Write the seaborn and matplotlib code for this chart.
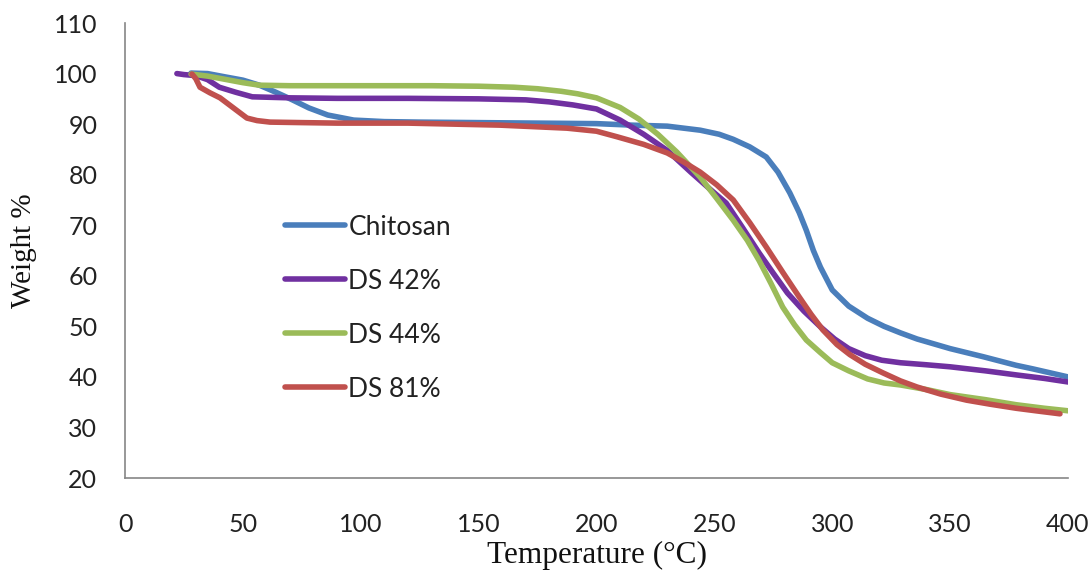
import matplotlib
matplotlib.use("Agg")
import matplotlib.pyplot as plt
import seaborn as sns
import pandas as pd
from matplotlib.lines import Line2D

chitosan_x = [28, 35, 43, 50, 57, 64, 71, 78, 86, 97, 110, 125, 150, 175, 200, 215, 230, 244, 252, 258,
              265, 272, 277, 282, 286, 289, 292, 295, 300, 307, 315, 322, 329, 336, 350, 364, 378, 385, 400]
chitosan_y = [100.1, 100, 99.3, 98.7, 97.7, 96.3, 94.8, 93.2, 91.8, 90.8, 90.5, 90.4, 90.3, 90.2, 90.1, 89.8,
              89.6, 88.8, 88, 87, 85.5, 83.5, 80.5, 76.4, 72.5, 69, 65, 61.7, 57.2, 54, 51.6, 50, 48.7, 47.5,
              45.6, 44, 42.3, 41.6, 40]

ds42_x = [22, 25, 30, 35, 40, 47, 54, 62, 70, 90, 120, 150, 170, 180, 190, 200, 210, 220, 230, 240, 248,
          255, 262, 269, 275, 281, 288, 295, 301, 307, 314, 321, 329, 340, 350, 365, 378, 390, 400]
ds42_y = [100, 99.8, 99.6, 98.8, 97.3, 96.3, 95.4, 95.3, 95.2, 95.1, 95.1, 95, 94.8, 94.4, 93.8, 93, 90.8,
          88, 84.8, 80.5, 77.2, 74.4, 69.5, 64.5, 60.5, 56.6, 53, 49.9, 47.5, 45.6, 44.2, 43.3, 42.8, 42.4,
          42, 41.2, 40.4, 39.7, 39]

ds44_x = [28, 35, 42, 50, 57, 70, 100, 130, 150, 165, 175, 185, 192, 200, 210, 218, 226, 234, 244, 251,
          258, 264, 269, 274, 279, 284, 289, 295, 300, 307, 315, 322, 329, 340, 350, 365, 378, 390, 400]
ds44_y = [99.9, 99.5, 98.9, 98.2, 97.7, 97.6, 97.6, 97.6, 97.5, 97.3, 97, 96.5, 96, 95.2, 93.3, 91, 88,
          84.5, 79.5, 75.3, 71, 67, 63, 58.5, 53.8, 50.3, 47.3, 44.8, 42.8, 41.2, 39.6, 38.8, 38.4, 37.5,
          36.5, 35.5, 34.5, 33.8, 33.3]

ds81_x = [28.4, 30, 31.8, 36, 40.3, 46, 51.7, 56, 61.5, 75, 90, 120, 159, 187.5, 200, 208.7, 220, 230,
          237, 244, 251, 258, 265, 272, 279, 286, 291, 296, 302, 307.5, 314, 321.5, 329, 336, 346, 357,
          367, 378, 388, 396.6]
ds81_y = [99.9, 99, 97.3, 96.2, 95.2, 93.2, 91.2, 90.7, 90.4, 90.3, 90.2, 90.2, 89.8, 89.2, 88.6, 87.5,
          86, 84.3, 82.5, 80.5, 78, 75, 70.5, 65.7, 60.7, 55.8, 52.4, 49.3, 46.4, 44.4, 42.5, 40.8, 39.2,
          38, 36.6, 35.4, 34.6, 33.8, 33.2, 32.7]

series_names = ["Chitosan", "DS 42%", "DS 44%", "DS 81%"]
colors = ["#4A7EBB", "#7030A0", "#9BBB59", "#C0504D"]
x_ticks = [0, 50, 100, 150, 200, 250, 300, 350, 400]
y_ticks = [20, 30, 40, 50, 60, 70, 80, 90, 100, 110]

frames = []
for name, xs, ys in zip(series_names,
                        [chitosan_x, ds42_x, ds44_x, ds81_x],
                        [chitosan_y, ds42_y, ds44_y, ds81_y]):
    frames.append(pd.DataFrame({"T": xs, "W": ys, "series": name}))
df = pd.concat(frames, ignore_index=True)

sns.set_style("white")
plt.rcParams['font.family'] = ['Lato', 'DejaVu Sans']

fig = plt.figure(figsize=(10.92, 5.74), dpi=100)
ax = fig.add_axes([0.1145, 0.1672, 0.8635, 0.7927])

sns.lineplot(data=df, x="T", y="W", hue="series", palette=dict(zip(series_names, colors)),
             sort=False, estimator=None, linewidth=4, ax=ax, legend=False)

ax.set_xlim(0, 400)
ax.set_ylim(20, 110)
ax.set_xticks(x_ticks)
ax.set_yticks(y_ticks)
ax.tick_params(axis='both', labelsize=18, colors='#868686', labelcolor='#222222',
               length=6, width=1, direction='out')
ax.tick_params(axis='x', pad=19)
ax.tick_params(axis='y', pad=14)
for side in ['top', 'right']:
    ax.spines[side].set_visible(False)
for side in ['left', 'bottom']:
    ax.spines[side].set_color('#868686')
    ax.spines[side].set_linewidth(1.2)

ax.set_xlabel("Temperature (°C)", fontsize=22.5, family=['Liberation Serif'], color='#111111', labelpad=4)
ax.set_ylabel("Weight %", fontsize=21, family=['Liberation Serif'], color='#111111', labelpad=12)

handles = [Line2D([0], [0], color=c, lw=4, solid_capstyle='round') for c in colors]
leg = ax.legend(handles, series_names, loc='upper left', bbox_to_anchor=(0.17, 0.579),
                frameon=False, fontsize=19, handlelength=2.27, handletextpad=0.12,
                labelspacing=1.1, borderaxespad=0, borderpad=0)
for t in leg.get_texts():
    t.set_color('#222222')

fig.savefig("out.png", dpi=100)
